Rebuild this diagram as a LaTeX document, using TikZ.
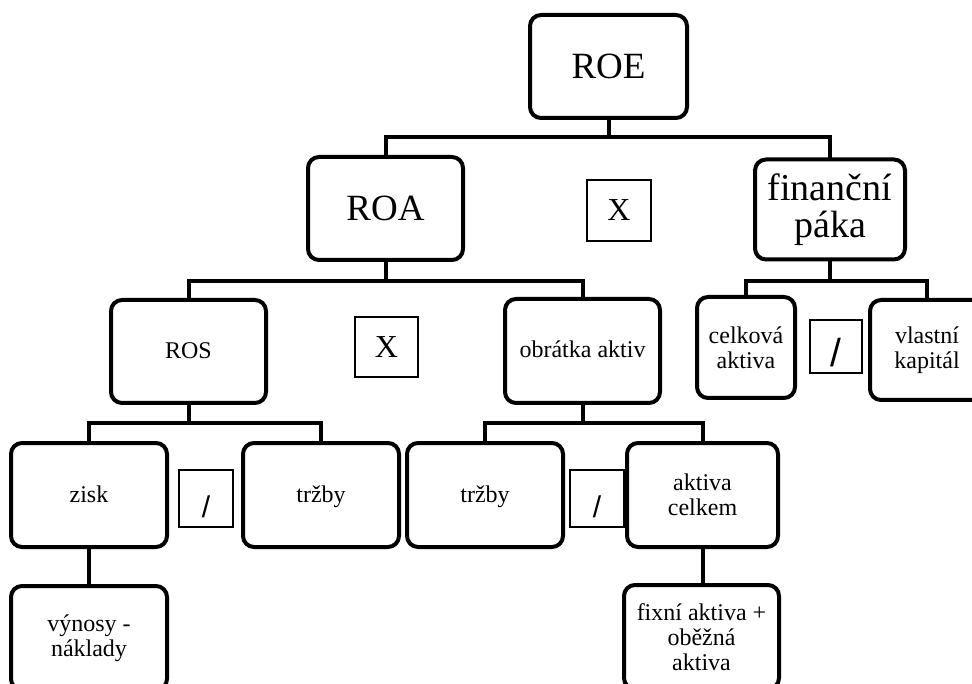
\documentclass[tikz,border=0pt]{standalone}
\usepackage{fontspec}
\setmainfont{Liberation Serif}
\newfontfamily\slashfont{Liberation Sans}
\begin{document}
\begin{tikzpicture}[x=1pt,y=-1pt,
  box/.style={draw, line width=4pt, rounded corners=11pt, inner sep=0pt,
    outer sep=0pt, align=center, fill=white},
  big/.style={font=\fontsize{37}{37}\selectfont},
  small/.style={font=\fontsize{24}{25}\selectfont},
  oneline/.style={text height=20pt, text depth=6pt},
  opbox/.style={draw, line width=1.2pt, inner sep=0pt, outer sep=0pt, fill=white},
  times/.style={opbox, font=\fontsize{32}{32}\selectfont},
  divide/.style={opbox, font=\slashfont\fontsize{30}{30}\selectfont,
    text height=38pt, text depth=0pt},
  bigdivide/.style={opbox, font=\slashfont\fontsize{39}{39}\selectfont,
    text height=40pt, text depth=0pt},
  conn/.style={line width=4pt}]
\useasboundingbox (0,0) rectangle (972,684);
\clip (0,0) rectangle (972,684);

% level 0
\node[box,big,minimum width=157pt,minimum height=103pt] (roe) at (608.5,66.5) {ROE};

% level 1
\node[box,big,minimum width=155pt,minimum height=103pt] (roa) at (385.5,208.5) {ROA};
\node[times,minimum width=64pt,minimum height=61pt] (x1) at (619,210.5) {X};
\node[box,font=\fontsize{38}{37}\selectfont,minimum width=150pt,minimum height=100pt] (fin) at (830,209.5) {finanční\\páka};

% level 2
\node[box,small,oneline,minimum width=155pt,minimum height=103pt] (ros) at (188.5,351.5) {ROS};
\node[times,minimum width=63pt,minimum height=60pt] (x2) at (386.5,347) {X};
\node[box,small,oneline,minimum width=155pt,minimum height=104pt] (obr) at (582.5,351) {obrátka aktiv};
\node[box,small,minimum width=98pt,minimum height=101pt] (cel) at (746,347.5) {celková\\aktiva};
\node[bigdivide,minimum width=52pt,minimum height=53pt] (d1) at (836,346.5) {/};
\node[box,small,minimum width=114pt,minimum height=100pt] (vla) at (927,350) {vlastní\\kapitál};

% level 3
\node[box,small,oneline,minimum width=156pt,minimum height=104pt] (zisk) at (89,495) {zisk};
\node[divide,minimum width=54pt,minimum height=57pt] (d2) at (206,498.5) {/};
\node[box,small,oneline,minimum width=156pt,minimum height=104pt] (trz1) at (321,495) {tržby};
\node[box,small,oneline,minimum width=156pt,minimum height=104pt] (trz2) at (485,495) {tržby};
\node[divide,minimum width=54pt,minimum height=57pt] (d3) at (597,498.5) {/};
\node[box,small,minimum width=151pt,minimum height=104pt] (akt) at (702.5,495) {aktiva\\celkem};

% level 4
\node[box,small,minimum width=156pt,minimum height=104pt] (vyn) at (89,638) {výnosy -\\náklady};
\node[box,small,minimum width=155pt,minimum height=104pt] (fix) at (701.5,637) {fixní aktiva +\\oběžná\\aktiva};

% bus lines
\coordinate (b1) at (0,137);
\coordinate (b2) at (0,281);
\coordinate (b3) at (0,423);

\draw[conn] (roe.south) -- (roe.south |- b1);
\draw[conn] (roa.north) |- (fin.north |- b1) -- (fin.north);

\draw[conn] (roa.south) -- (roa.south |- b2);
\draw[conn] (ros.north) |- (obr.north |- b2) -- (obr.north);
\draw[conn] (fin.south) -- (fin.south |- b2);
\draw[conn] (cel.north) |- (vla.north |- b2) -- (vla.north);

\draw[conn] (ros.south) -- (ros.south |- b3);
\draw[conn] (zisk.north) |- (trz1.north |- b3) -- (trz1.north);
\draw[conn] (obr.south) -- (obr.south |- b3);
\draw[conn] (trz2.north) |- (akt.north |- b3) -- (akt.north);

\draw[conn] (zisk.south) -- (vyn.north);
\draw[conn] (akt.south) -- (akt.south |- fix.north);
\end{tikzpicture}
\end{document}
